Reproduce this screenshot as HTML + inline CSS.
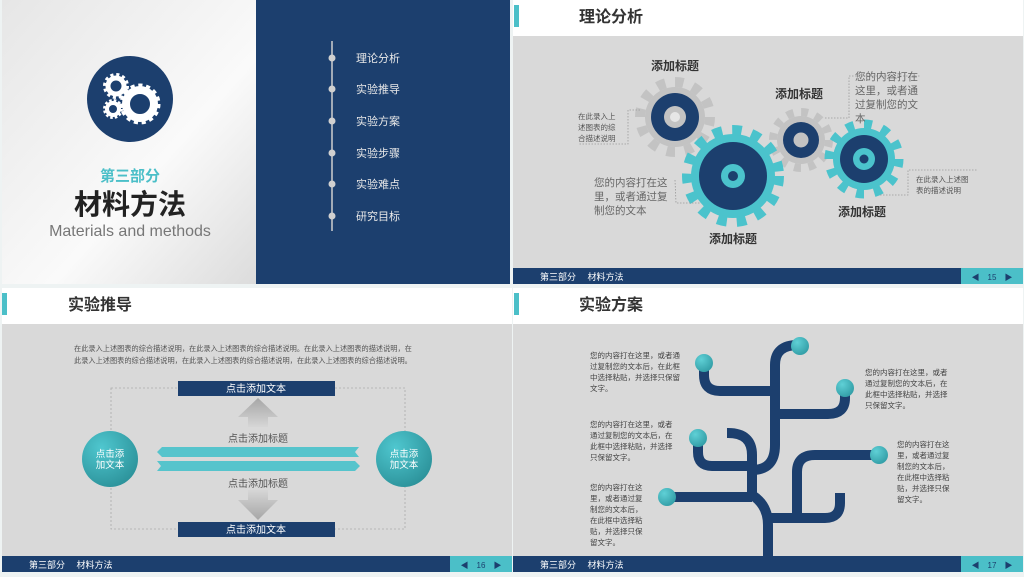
<!DOCTYPE html>
<html><head><meta charset="utf-8"><style>
html,body{margin:0;padding:0;background:#eef3f3;}
svg{display:block;font-family:"Liberation Sans","Noto Sans CJK SC",sans-serif;}
</style></head><body>
<svg width="1024" height="577" viewBox="0 0 1024 577" xmlns="http://www.w3.org/2000/svg">
<defs>
<linearGradient id="lg" x1="0" y1="0" x2="1" y2="1"><stop offset="0" stop-color="#e6e6e6"/><stop offset="0.6" stop-color="#fafafa"/><stop offset="1" stop-color="#dcdcdc"/></linearGradient>
<radialGradient id="tc" cx="0.35" cy="0.3" r="0.8"><stop offset="0" stop-color="#4fc7cf"/><stop offset="1" stop-color="#2a8f97"/></radialGradient>
<radialGradient id="bb" cx="0.35" cy="0.3" r="0.8"><stop offset="0" stop-color="#5fd0d6"/><stop offset="1" stop-color="#2f9aa3"/></radialGradient>
<linearGradient id="ar" x1="0" y1="0" x2="0" y2="1"><stop offset="0" stop-color="#a6a6a6"/><stop offset="1" stop-color="#d6d6d6"/></linearGradient>
<linearGradient id="ar2" x1="0" y1="0" x2="0" y2="1"><stop offset="0" stop-color="#d6d6d6"/><stop offset="1" stop-color="#a6a6a6"/></linearGradient>
</defs>

<!-- SLIDE 1 -->
<rect x="2" y="0" width="254" height="284" fill="url(#lg)"/>
<rect x="256" y="0" width="254" height="284" fill="#1c3f6e"/>
<circle cx="130" cy="99" r="43" fill="#1c3f6e"/>
<g fill="none" stroke="#fff">
<circle cx="140" cy="104" r="14" stroke-width="8"/>
<circle cx="140" cy="104" r="18" stroke-width="5" stroke-dasharray="4 3.55"/>
<circle cx="116" cy="86" r="8" stroke-width="5"/>
<circle cx="116" cy="86" r="11" stroke-width="4" stroke-dasharray="3 2.75"/>
<circle cx="113" cy="109" r="6" stroke-width="4"/>
<circle cx="113" cy="109" r="8.5" stroke-width="3" stroke-dasharray="2.5 2"/>
</g>
<text x="130" y="181" font-size="15" font-weight="bold" fill="#4bbfc8" text-anchor="middle">第三部分</text>
<text x="130" y="214" font-size="28" font-weight="bold" fill="#222" text-anchor="middle">材料方法</text>
<text x="130" y="236" font-size="16" fill="#777" text-anchor="middle">Materials and methods</text>
<line x1="332" y1="41" x2="332" y2="231" stroke="#cfcfcf" stroke-width="1.5"/>
<g fill="#d0d0d0"><circle cx="332" cy="58" r="3.5"/><circle cx="332" cy="89" r="3.5"/><circle cx="332" cy="121" r="3.5"/><circle cx="332" cy="153" r="3.5"/><circle cx="332" cy="184" r="3.5"/><circle cx="332" cy="216" r="3.5"/></g>
<g font-size="11" fill="#e8e8e8"><text x="356" y="62">理论分析</text><text x="356" y="93">实验推导</text><text x="356" y="125">实验方案</text><text x="356" y="157">实验步骤</text><text x="356" y="188">实验难点</text><text x="356" y="220">研究目标</text></g>

<!-- SLIDE 2 -->
<rect x="513" y="0" width="510" height="36" fill="#fff"/>
<rect x="514" y="5" width="5" height="22" fill="#4bbfc8"/>
<text x="579" y="22" font-size="16" font-weight="bold" fill="#333">理论分析</text>
<rect x="513" y="36" width="510" height="232" fill="#d9d9d9"/>
<rect x="513" y="268" width="510" height="16" fill="#1c3f6e"/>
<rect x="961" y="268" width="62" height="16" fill="#4bbfc8"/>
<text x="540" y="280" font-size="9" fill="#fff">第三部分　 材料方法</text>
<text x="992" y="280" font-size="8" fill="#1c3f6e" text-anchor="middle">◀　15　▶</text>
<!-- gears -->
<g fill="none">
<circle cx="675" cy="117" r="30" fill="#c3c3c3"/>
<circle cx="675" cy="117" r="35" stroke="#c3c3c3" stroke-width="10" stroke-dasharray="8.5 9.8"/>
<circle cx="675" cy="117" r="24" fill="#1c3f6e"/>
<circle cx="675" cy="117" r="11" fill="#c3c3c3"/><circle cx="675" cy="117" r="5" fill="#e6e6e6"/>
<circle cx="801" cy="140" r="24" fill="#c3c3c3"/>
<circle cx="801" cy="140" r="28" stroke="#c3c3c3" stroke-width="8" stroke-dasharray="7 7.65"/>
<circle cx="801" cy="140" r="18" fill="#1c3f6e"/>
<circle cx="801" cy="140" r="7.5" fill="#c3c3c3"/>
<circle cx="733" cy="176" r="42" fill="#4bc3cc"/>
<circle cx="733" cy="176" r="46" stroke="#4bc3cc" stroke-width="10" stroke-dasharray="9.5 10.1"/>
<circle cx="733" cy="176" r="34" fill="#1c3f6e"/>
<circle cx="733" cy="176" r="12" fill="#4bc3cc"/><circle cx="733" cy="176" r="5" fill="#1c3f6e"/>
<circle cx="864" cy="159" r="31" fill="#4bc3cc"/>
<circle cx="864" cy="159" r="35" stroke="#4bc3cc" stroke-width="9" stroke-dasharray="8 10.3"/>
<circle cx="864" cy="159" r="24" fill="#1c3f6e"/>
<circle cx="864" cy="159" r="11" fill="#4bc3cc"/><circle cx="864" cy="159" r="4.5" fill="#1c3f6e"/>
</g>
<g font-size="12" font-weight="bold" fill="#333" text-anchor="middle">
<text x="675" y="70">添加标题</text><text x="799" y="98">添加标题</text><text x="733" y="243">添加标题</text><text x="862" y="216">添加标题</text></g>
<g stroke="#999" stroke-width="0.8" stroke-dasharray="1.5 1.5" fill="none">
<polyline points="640,110 628,110 628,144 578,144"/>
<polyline points="675,180 676,203 700,203"/>
<polyline points="825,118 849,118 849,76 920,76"/>
<polyline points="880,195 908,195 908,170 978,170"/>
</g>
<g font-size="7.5" fill="#555"><text x="578" y="119">在此录入上</text><text x="578" y="130">述图表的综</text><text x="578" y="141">合描述说明</text>
<text x="916" y="182">在此录入上述图</text><text x="916" y="193">表的描述说明</text></g>
<g font-size="10.5" fill="#666"><text x="594" y="186">您的内容打在这</text><text x="594" y="200">里，或者通过复</text><text x="594" y="214">制您的文本</text>
<text x="855" y="80">您的内容打在</text><text x="855" y="94">这里，或者通</text><text x="855" y="108">过复制您的文</text><text x="855" y="122">本</text></g>

<!-- SLIDE 3 -->
<rect x="2" y="288" width="510" height="36" fill="#fff"/>
<rect x="2" y="293" width="5" height="22" fill="#4bbfc8"/>
<text x="68" y="310" font-size="16" font-weight="bold" fill="#333">实验推导</text>
<rect x="2" y="324" width="510" height="232" fill="#d9d9d9"/>
<rect x="2" y="556" width="510" height="16" fill="#1c3f6e"/>
<rect x="450" y="556" width="62" height="16" fill="#4bbfc8"/>
<text x="29" y="568" font-size="9" fill="#fff">第三部分　 材料方法</text>
<text x="481" y="568" font-size="8" fill="#1c3f6e" text-anchor="middle">◀　16　▶</text>
<g font-size="7.2" fill="#555"><text x="74" y="351">在此录入上述图表的综合描述说明，在此录入上述图表的综合描述说明。在此录入上述图表的描述说明，在</text><text x="74" y="363">此录入上述图表的综合描述说明，在此录入上述图表的综合描述说明，在此录入上述图表的综合描述说明。</text></g>
<rect x="111" y="388" width="294" height="141" fill="none" stroke="#aaa" stroke-width="0.8" stroke-dasharray="2 2"/>
<rect x="178" y="381" width="157" height="15" fill="#1c3f6e"/>
<rect x="178" y="522" width="157" height="15" fill="#1c3f6e"/>
<g font-size="10" fill="#fff" text-anchor="middle"><text x="256" y="392">点击添加文本</text><text x="256" y="533">点击添加文本</text></g>
<polygon points="258,398 278,417 268,417 268,427 248,427 248,417 238,417" fill="url(#ar)"/>
<polygon points="258,520 278,500 268,500 268,490 248,490 248,500 238,500" fill="url(#ar2)"/>
<g font-size="10" fill="#555" text-anchor="middle"><text x="258" y="442">点击添加标题</text><text x="258" y="487">点击添加标题</text></g>
<polygon points="162,447 359,447 355,452 359,457 162,457 157,452" fill="#56c4cc"/>
<polygon points="157,461 355,461 360,466 355,471 157,471 161,466" fill="#56c4cc"/>
<circle cx="110" cy="459" r="28" fill="url(#tc)"/>
<circle cx="404" cy="459" r="28" fill="url(#tc)"/>
<g font-size="9.5" fill="#fff" text-anchor="middle"><text x="110" y="457">点击添</text><text x="110" y="468">加文本</text><text x="404" y="457">点击添</text><text x="404" y="468">加文本</text></g>

<!-- SLIDE 4 -->
<rect x="513" y="288" width="510" height="36" fill="#fff"/>
<rect x="514" y="293" width="5" height="22" fill="#4bbfc8"/>
<text x="579" y="310" font-size="16" font-weight="bold" fill="#333">实验方案</text>
<rect x="513" y="324" width="510" height="232" fill="#d9d9d9"/>
<g fill="none" stroke="#1c3f6e" stroke-width="10">
<path d="M768 557 L768 525 Q768 505 752 495 L752 455 Q752 433 728 433 L727 433"/>
<path d="M752 470 Q775 470 775 445 L775 365 Q775 345 798 345"/>
<path d="M775 391 L720 391 Q704 391 704 375 L704 363"/>
<path d="M775 414 L828 414 Q845 414 845 398 L845 388"/>
<path d="M752 466 L712 466 Q698 466 698 452 L698 438"/>
<path d="M667 497 L752 497"/>
<path d="M768 518 L825 518 Q840 518 840 503 L840 493"/>
<path d="M797 518 L797 472 Q797 455 815 455 L879 455"/>
</g>
<g fill="url(#bb)"><circle cx="800" cy="346" r="9"/><circle cx="704" cy="363" r="9"/><circle cx="845" cy="388" r="9"/><circle cx="698" cy="438" r="9"/><circle cx="667" cy="497" r="9"/><circle cx="879" cy="455" r="9"/></g>
<rect x="513" y="556" width="510" height="16" fill="#1c3f6e"/>
<rect x="961" y="556" width="62" height="16" fill="#4bbfc8"/>
<text x="540" y="568" font-size="9" fill="#fff">第三部分　 材料方法</text>
<text x="992" y="568" font-size="8" fill="#1c3f6e" text-anchor="middle">◀　17　▶</text>
<g font-size="7.5" fill="#444">
<text x="590" y="358">您的内容打在这里，或者通</text><text x="590" y="369">过复制您的文本后，在此框</text><text x="590" y="380">中选择粘贴，并选择只保留</text><text x="590" y="391">文字。</text>
<text x="865" y="375">您的内容打在这里，或者</text><text x="865" y="386">通过复制您的文本后，在</text><text x="865" y="397">此框中选择粘贴，并选择</text><text x="865" y="408">只保留文字。</text>
<text x="590" y="427">您的内容打在这里，或者</text><text x="590" y="438">通过复制您的文本后，在</text><text x="590" y="449">此框中选择粘贴，并选择</text><text x="590" y="460">只保留文字。</text>
<text x="897" y="447">您的内容打在这</text><text x="897" y="458">里，或者通过复</text><text x="897" y="469">制您的文本后，</text><text x="897" y="480">在此框中选择粘</text><text x="897" y="491">贴，并选择只保</text><text x="897" y="502">留文字。</text>
<text x="590" y="490">您的内容打在这</text><text x="590" y="501">里，或者通过复</text><text x="590" y="512">制您的文本后，</text><text x="590" y="523">在此框中选择粘</text><text x="590" y="534">贴，并选择只保</text><text x="590" y="545">留文字。</text>
</g>
</svg>
</body></html>
